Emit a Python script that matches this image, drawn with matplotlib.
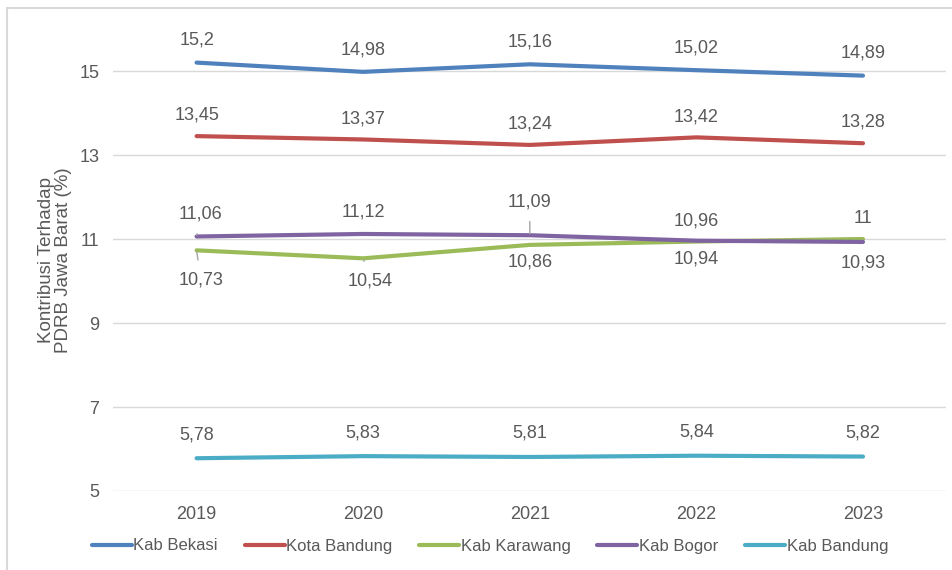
import matplotlib.pyplot as plt
from matplotlib.patches import Rectangle

plt.rcParams['font.family'] = ['Liberation Sans', 'DejaVu Sans']

years = ['2019', '2020', '2021', '2022', '2023']
kab_bekasi = [15.2, 14.98, 15.16, 15.02, 14.89]
kota_bandung = [13.45, 13.37, 13.24, 13.42, 13.28]
kab_karawang = [10.73, 10.54, 10.86, 10.94, 11]
kab_bogor = [11.06, 11.12, 11.09, 10.96, 10.93]
kab_bandung = [5.78, 5.83, 5.81, 5.84, 5.82]

names = ['Kab Bekasi', 'Kota Bandung', 'Kab Karawang', 'Kab Bogor', 'Kab Bandung']
colors = ['#4F81BD', '#C0504D', '#9BBB59', '#8064A2', '#4BACC6']
series = [kab_bekasi, kota_bandung, kab_karawang, kab_bogor, kab_bandung]

# label offsets in points (dx, dy) per series and point
offsets = {
    0: [(0, 16)] * 5,
    1: [(0, 15)] * 5,
    2: [(3, -21), (5, -16), (0, -12.5), (0, -12.5), (0, 15)],
    3: [(3, 16), (0, 16), (0, 24), (0, 14.5), (0, -15.5)],
    4: [(0, 17)] * 5,
}
leaders = {(2, 0), (2, 1), (3, 0), (3, 2)}

text_col = '#595959'
fs = 13

fig = plt.figure(figsize=(9.52, 5.70), dpi=100)
ax = fig.add_axes([0.119, 0.1386, 0.875, 0.8105])

x = list(range(len(years)))
for vals, name, c in zip(series, names, colors):
    ax.plot(x, vals, color=c, lw=3, label=name, solid_capstyle='round', zorder=3)

for i, vals in enumerate(series):
    for j, v in enumerate(vals):
        lbl = ('%g' % v).replace('.', ',')
        dx, dy = offsets[i][j]
        if (i, j) in leaders:
            ax.annotate(lbl, (j, v), xytext=(dx, dy), textcoords='offset points',
                        ha='center', va='center', fontsize=fs, color=text_col,
                        arrowprops=dict(arrowstyle='-', color='#A6A6A6', lw=1,
                                        shrinkA=6, shrinkB=1))
        else:
            ax.annotate(lbl, (j, v), xytext=(dx, dy), textcoords='offset points',
                        ha='center', va='center', fontsize=fs, color=text_col)

ax.set_xlim(-0.5, 4.5)
ax.set_ylim(5, 16)
ax.set_yticks([5, 7, 9, 11, 13, 15])
ax.set_xticks(x)
ax.set_xticklabels(years)
ax.grid(axis='y', color='#D9D9D9', lw=1)
ax.set_axisbelow(True)
for s in ax.spines.values():
    s.set_visible(False)
ax.tick_params(length=0, labelsize=fs, labelcolor=text_col)
ax.tick_params(axis='y', pad=10)
ax.tick_params(axis='x', pad=11)
ax.set_ylabel('Kontribusi Terhadap\nPDRB Jawa Barat (%)', fontsize=13.5, color=text_col,
              labelpad=5, linespacing=1.0)

fig.legend(loc='center', bbox_to_anchor=(490 / 952, 1 - 546 / 570), ncol=5, frameon=False,
           fontsize=12, handlelength=2.4, handletextpad=0.1, columnspacing=1.6,
           labelcolor=text_col)

fig.patches.append(Rectangle((7 / 952, -0.1), 1.2, (570 - 8) / 570 + 0.1,
                             transform=fig.transFigure, fill=False,
                             edgecolor='#D9D9D9', lw=1.5))

fig.savefig('out.png', dpi=100)
